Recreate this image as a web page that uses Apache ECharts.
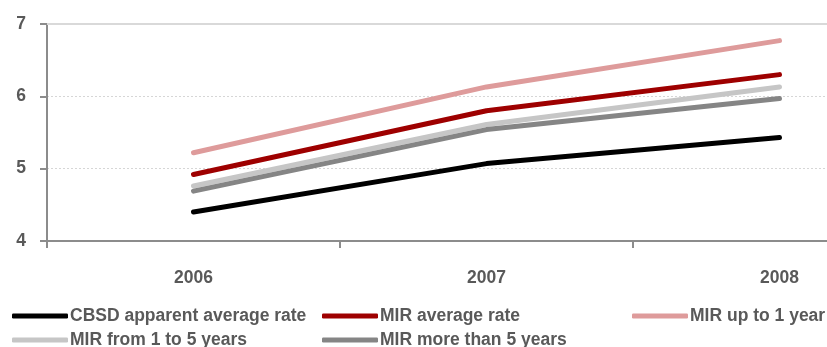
<!DOCTYPE html>
<html>
<head>
<meta charset="utf-8">
<script src="https://cdn.jsdelivr.net/npm/echarts@6/dist/echarts.min.js"></script>
<style>
  html, body { margin: 0; padding: 0; background: #ffffff; overflow: hidden; width: 827px; height: 347px; }
  /* the plot area runs past the right edge of the visible window */
  #chart { width: 930px; height: 347px; }
</style>
</head>
<body>
<div id="chart"></div>
<script>
// Interest rates, % per year
const years = ['2006', '2007', '2008'];
const cbsdAvg = [4.40, 5.07, 5.43];
const mirAvg = [4.92, 5.80, 6.30];
const mirUpTo1 = [5.22, 6.13, 6.77];
const mir1to5 = [4.76, 5.61, 6.13];
const mirOver5 = [4.69, 5.54, 5.97];

const seriesNames = [
  'CBSD apparent average rate',
  'MIR average rate',
  'MIR up to 1 year',
  'MIR from 1 to 5 years',
  'MIR more than 5 years'
];
const seriesData = [cbsdAvg, mirAvg, mirUpTo1, mir1to5, mirOver5];
const seriesColors = ['#000000', '#9E0000', '#DE9B9B', '#C6C6C6', '#858585'];

const textColor = '#595959';
const fontFamily = '"Liberation Sans", Arial, sans-serif';

// legend placement: three columns, two rows
const legendSpots = [
  { left: 12, top: 307 },
  { left: 322, top: 307 },
  { left: 632, top: 307 },
  { left: 12, top: 331 },
  { left: 322, top: 331 }
];

const legends = seriesNames.map((name, i) => ({
  data: [name],
  left: legendSpots[i].left,
  top: legendSpots[i].top,
  padding: 0,
  icon: 'roundRect',
  itemWidth: 56,
  itemHeight: 5,
  textStyle: {
    color: textColor,
    fontFamily: fontFamily,
    fontWeight: 'bold',
    fontSize: 17.5,
    padding: [0, 0, 0, -3]
  }
}));

const series = seriesNames.map((name, i) => ({
  name: name,
  type: 'line',
  data: seriesData[i],
  symbol: 'none',
  color: seriesColors[i],
  lineStyle: { width: 5, color: seriesColors[i], cap: 'round', join: 'round' },
  z: 3 + i
}));

// solid top rule at 7
series[0].markLine = {
  silent: true,
  symbol: 'none',
  label: { show: false },
  lineStyle: { color: '#D9D9D9', type: 'solid', width: 2 },
  data: [{ yAxis: 7 }],
  z: 1
};

const chart = echarts.init(document.getElementById('chart'), null, { renderer: 'canvas' });
chart.setOption({
  animation: false,
  backgroundColor: '#ffffff',
  legend: legends,
  grid: { left: 47, top: 24, width: 879, height: 217 },
  xAxis: {
    type: 'category',
    data: years,
    boundaryGap: true,
    axisLine: { lineStyle: { color: '#8C8C8C', width: 2 } },
    axisTick: { show: true, length: 7, lineStyle: { color: '#8C8C8C', width: 2 } },
    axisLabel: {
      color: textColor,
      fontFamily: fontFamily,
      fontWeight: 'bold',
      fontSize: 17.5,
      margin: 28
    },
    splitLine: { show: false }
  },
  yAxis: {
    type: 'value',
    min: 4,
    max: 7,
    interval: 1,
    axisLine: { show: true, lineStyle: { color: '#8C8C8C', width: 2 } },
    axisTick: { show: true, length: 7, lineStyle: { color: '#8C8C8C', width: 2 } },
    axisLabel: {
      color: textColor,
      fontFamily: fontFamily,
      fontWeight: 'bold',
      fontSize: 17.5,
      margin: 21
    },
    splitLine: { show: true, lineStyle: { color: '#D6D6D6', type: [2, 2], width: 1 } }
  },
  series: series
});
</script>
</body>
</html>
